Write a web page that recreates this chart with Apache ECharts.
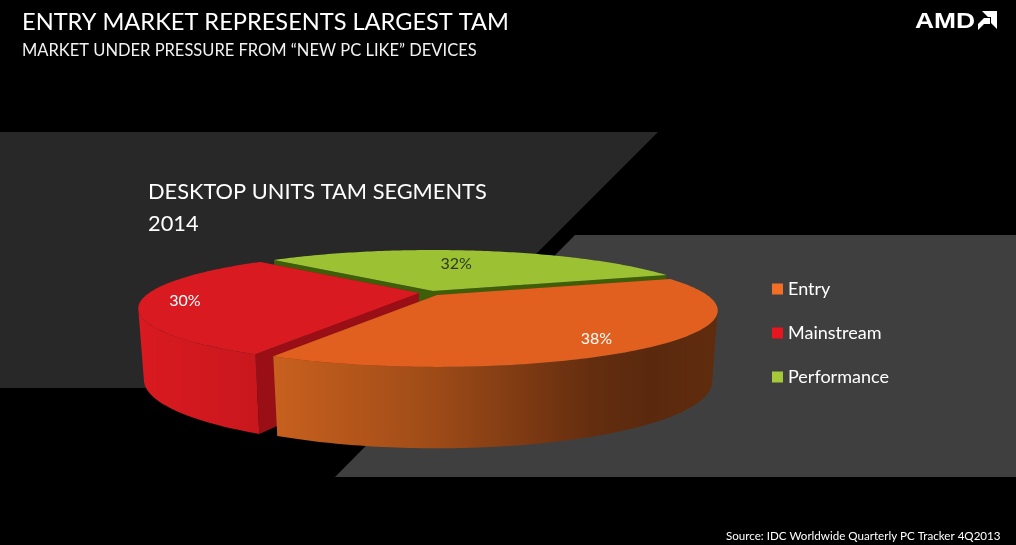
<!DOCTYPE html>
<html>
<head>
<meta charset="utf-8">
<style>html,body{margin:0;padding:0;background:#000}#c{width:1016px;height:545px}</style>
<script src="https://cdn.jsdelivr.net/npm/echarts@6/dist/echarts.min.js"></script>
</head>
<body>
<div id="c"></div>
<script>
var categories = ['Entry', 'Mainstream', 'Performance'];
var shares = [38, 30, 32];
var shareLabels = ['38%', '30%', '32%'];
var startDegree = -19.5;

// Projection of the tilted pie
var view = { R: 270, r: 52.2, p: 0.274, H: 62, Hk: 8, q: 0.019, wallFrom: 15.9, wallTo: 164.1 };
var sliceLook = [
  { apex: [437, 295], top: '#e1601f', radial: '#7a3510', z: 6, labelColor: '#fff', labelRho: 0.835, labelShift: 6,
    legend: '#f36f25',
    wall: [[0, '#c8601e'], [0.35, '#a04c18'], [0.72, '#642d0f'], [0.85, '#5a290d'], [1, '#602c0e']] },
  { apex: [419, 293], top: '#d91a20', radial: '#9a0f16', z: 4, labelColor: '#fff', labelRho: 0.845, labelShift: -1,
    legend: '#e8141e',
    wall: [[0, '#d91a20'], [1, '#c9171e']] },
  { apex: [433, 291], top: '#9cc133', radial: '#3f5e0a', z: 2, labelColor: '#2f3a1c', labelRho: 0.61, labelShift: -3.5,
    legend: '#a6c93a',
    wall: [[0, '#3f5e0a'], [1, '#3f5e0a']] }
];

function project(apex, rho, deg, lower) {
  var a = deg * Math.PI / 180;
  var u = rho * Math.cos(a), v = rho * Math.sin(a);
  var w = 1 - view.p * v + (lower ? view.q : 0);
  var drop = lower ? view.H + view.Hk * (1 - v) : 0;
  return [apex[0] + view.R * u / w, apex[1] + (view.r * v + drop) / w];
}
function arc(apex, a0, a1, lower) {
  var pts = [], n = Math.max(1, Math.ceil(Math.abs(a1 - a0)));
  for (var i = 0; i <= n; i++) pts.push(project(apex, 1, a0 + (a1 - a0) * i / n, lower));
  return pts;
}
function sliceRender(index) {
  return function (params, api) {
    var total = shares.reduce(function (s, x) { return s + x; }, 0);
    var before = 0;
    for (var k = 0; k < index; k++) before += shares[k];
    var a0 = startDegree + before / total * 360;
    var a1 = a0 + api.value(0) / total * 360;
    var look = sliceLook[index];
    var A = look.apex;
    var topArc = arc(A, a0, a1, false);
    var apexLow = project(A, 0, 0, true);
    var c0 = project(A, 1, a0, true), c1 = project(A, 1, a1, true);
    var mid = (a0 + a1) / 2 + look.labelShift;
    var lp = project(A, look.labelRho, mid, false);
    var children = [
      { type: 'polygon', shape: { points: [A, topArc[0], c0, apexLow] }, style: { fill: look.radial } },
      { type: 'polygon', shape: { points: [A, topArc[topArc.length - 1], c1, apexLow] }, style: { fill: look.radial } }
    ];
    var w0 = Math.max(a0, view.wallFrom), w1 = Math.min(a1, view.wallTo);
    if (w1 > w0) {
      var stops = look.wall.map(function (s) { return { offset: s[0], color: s[1] }; });
      children.push({ type: 'polygon',
        shape: { points: arc(A, w0, w1, false).concat(arc(A, w0, w1, true).reverse()) },
        style: { fill: new echarts.graphic.LinearGradient(0, 0, 1, 0, stops) } });
    }
    children.push({ type: 'polygon', shape: { points: [A].concat(topArc) }, style: { fill: look.top } });
    children.push({ type: 'text', x: lp[0], y: lp[1],
      style: { text: shareLabels[index], fill: look.labelColor, font: '16px Lato', align: 'center', verticalAlign: 'middle' } });
    return { type: 'group', children: children };
  };
}

var series = categories.map(function (name, i) {
  return {
    type: 'custom', name: name, coordinateSystem: 'none', z: sliceLook[i].z, silent: true, animation: false,
    itemStyle: { color: sliceLook[i].legend },
    renderItem: sliceRender(i),
    data: [[shares[i]]]
  };
});

var chart = echarts.init(document.getElementById('c'), null, { renderer: 'canvas' });
chart.setOption({
  backgroundColor: '#000',
  animation: false,
  title: [
    { text: 'ENTRY MARKET REPRESENTS LARGEST TAM', left: 17, top: 5, textStyle: { color: '#fff', fontFamily: 'Lato', fontWeight: 'normal', fontSize: 23.6 } },
    { text: 'MARKET UNDER PRESSURE FROM “NEW PC LIKE” DEVICES', left: 17, top: 37, textStyle: { color: '#f2f2f2', fontFamily: 'Lato', fontWeight: 'normal', fontSize: 16.5 } },
    { text: 'DESKTOP UNITS TAM SEGMENTS', left: 143, top: 176, textStyle: { color: '#fff', fontFamily: 'Lato', fontWeight: 'normal', fontSize: 21.8 } },
    { text: '2014', left: 143, top: 208, textStyle: { color: '#fff', fontFamily: 'Lato', fontWeight: 'normal', fontSize: 21.8 } },
    { text: 'Source: IDC Worldwide Quarterly PC Tracker 4Q2013', left: 721, top: 525, textStyle: { color: '#fff', fontFamily: 'Lato', fontWeight: 'normal', fontSize: 11.6 } }
  ],
  legend: {
    orient: 'vertical', left: 772, top: 280, itemGap: 26, itemWidth: 11, itemHeight: 11, icon: 'rect',
    textStyle: { color: '#fff', fontFamily: 'Lato', fontSize: 18, lineHeight: 18 },
    selectedMode: false, padding: 0,
    data: categories.map(function (n, i) { return { name: n, itemStyle: { color: sliceLook[i].legend } }; })
  },
  graphic: [
    { type: 'polygon', z: -5, silent: true, shape: { points: [[0, 132], [658, 132], [402, 388], [0, 388]] }, style: { fill: '#282828' } },
    { type: 'polygon', z: -4, silent: true, shape: { points: [[575, 235], [1016, 235], [1016, 477], [335, 477]] }, style: { fill: '#3f3f3f' } },
    { type: 'text', z: 5, silent: true, x: 915, y: 11, scaleX: 1.2,
      style: { text: 'AMD', fill: '#fff', font: 'bold 22px "Liberation Sans"' } },
    { type: 'polygon', z: 5, silent: true, shape: { points: [[982, 11], [997, 11], [997, 29], [991, 23], [991, 17], [988, 17]] }, style: { fill: '#fff' } },
    { type: 'polygon', z: 5, silent: true, shape: { points: [[984, 18], [990, 18], [990, 24], [984, 24], [978, 30], [978, 24]] }, style: { fill: '#fff' } }
  ],
  series: series
});
</script>
</body>
</html>
